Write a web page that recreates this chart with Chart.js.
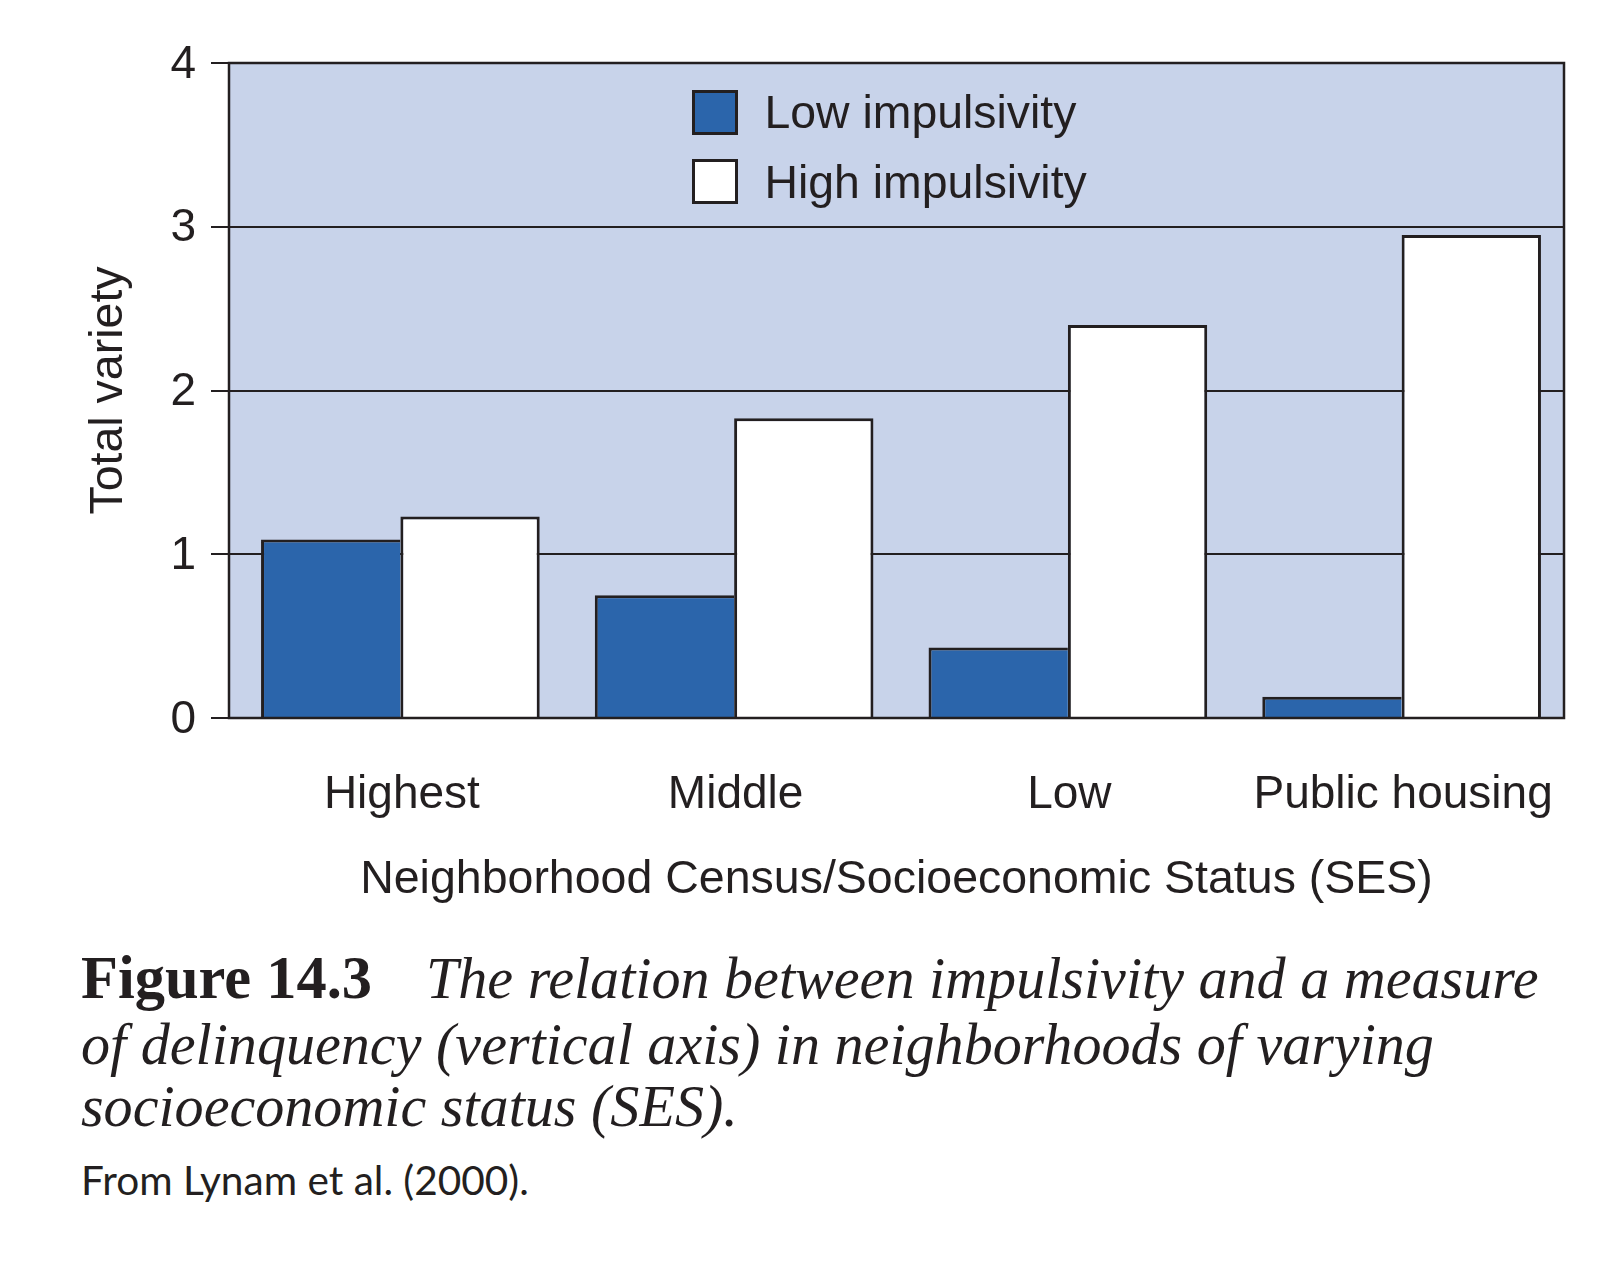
<!DOCTYPE html>
<html>
<head>
<meta charset="utf-8">
<script src="https://cdn.jsdelivr.net/npm/chart.js@4.4.1/dist/chart.umd.min.js"></script>
<style>
html, body { margin: 0; padding: 0; background: #ffffff; }
#wrap { position: relative; width: 1620px; height: 1272px; overflow: hidden; background: #ffffff; }
#c { position: absolute; left: 0; top: 0; }
.t { position: absolute; white-space: nowrap; line-height: 1; color: #231F20; }
.mk { display: inline-block; width: 0; height: 0; }
.legbox { position: absolute; width: 46px; height: 45px; box-sizing: border-box; border: 3px solid #231F20; }
</style>
</head>
<body>
<div id="wrap">
  <canvas id="c" width="1620" height="920"></canvas>
  <div id="legend"></div>
  <div id="cap1a" class="t" style="font-family:'Liberation Serif';font-weight:bold;">Figure 14.3<span class="mk"></span></div>
  <div id="cap1b" class="t" style="font-family:'Liberation Serif';font-style:italic;">The relation between impulsivity and a measure<span class="mk"></span></div>
  <div id="cap2" class="t" style="font-family:'Liberation Serif';font-style:italic;">of delinquency (vertical axis) in neighborhoods of varying<span class="mk"></span></div>
  <div id="cap3" class="t" style="font-family:'Liberation Serif';font-style:italic;">socioeconomic status (SES).<span class="mk"></span></div>
  <div id="src" class="t" style="font-family:'Lato';">From Lynam et al. (2000).<span class="mk"></span></div>
</div>
<script>
// ---- data ----
const categories = ['Highest', 'Middle', 'Low', 'Public housing'];
const seriesNames = ['Low impulsivity', 'High impulsivity'];
const lowImpulsivity = [1.09, 0.75, 0.43, 0.13];
const highImpulsivity = [1.23, 1.83, 2.40, 2.95];
const yTicks = [0, 1, 2, 3, 4];
const yTitle = 'Total variety';
const xTitle = 'Neighborhood Census/Socioeconomic Status (SES)';

// ---- styles ----
const INK = '#231F20';
const PANEL = '#C8D3EA';
const BLUE = '#2B65AB';
const WHITE = '#FFFFFF';
const BAR_SHIFT = 4.5;

Chart.defaults.font.family = "'Liberation Sans', Arial, sans-serif";
Chart.defaults.color = INK;

const framePlugin = {
  id: 'frame',
  afterLayout(chart) {
    // the bar groups of the original sit a few pixels right of the frame
    const s = chart.scales.x;
    s.left += BAR_SHIFT;
    s.right += BAR_SHIFT;
    s.configure();
  },
  beforeDraw(chart) {
    // restore the axis box so labels and title are centred on the frame
    const s = chart.scales.x;
    s.left -= BAR_SHIFT;
    s.right -= BAR_SHIFT;
    s.configure();
    const { ctx, chartArea: a } = chart;
    ctx.save();
    ctx.fillStyle = PANEL;
    ctx.fillRect(a.left, a.top, a.right - a.left, a.bottom - a.top);
    ctx.restore();
  },
  afterDatasetsDraw(chart) {
    const { ctx, chartArea: a } = chart;
    ctx.save();
    ctx.strokeStyle = INK;
    ctx.lineWidth = 2.5;
    ctx.strokeRect(a.left, a.top, a.right - a.left, a.bottom - a.top);
    ctx.restore();
  }
};

const chart = new Chart(document.getElementById('c'), {
  type: 'bar',
  data: {
    labels: categories,
    datasets: [
      {
        label: seriesNames[0],
        data: lowImpulsivity,
        backgroundColor: BLUE,
        borderColor: INK,
        borderWidth: { top: 3, left: 3, right: 0, bottom: 0 },
        borderSkipped: false
      },
      {
        label: seriesNames[1],
        data: highImpulsivity,
        backgroundColor: WHITE,
        borderColor: INK,
        borderWidth: { top: 3, left: 3, right: 3, bottom: 0 },
        borderSkipped: false
      }
    ]
  },
  options: {
    responsive: false,
    animation: false,
    devicePixelRatio: 1,
    layout: { padding: { top: 63, left: 0, right: 56, bottom: 0 } },
    datasets: { bar: { categoryPercentage: 0.835, barPercentage: 1.0 } },
    plugins: {
      legend: { display: false },
      tooltip: { enabled: false }
    },
    scales: {
      x: {
        grid: { display: false, drawTicks: false },
        border: { display: false },
        ticks: {
          font: { size: 46 },
          color: INK,
          padding: 50,
          labelOffset: 6,
          maxRotation: 0,
          autoSkip: false
        },
        title: {
          display: true,
          text: xTitle,
          font: { size: 46.5, lineHeight: 1.2 },
          color: INK,
          padding: { top: 0, bottom: 12 }
        },
        afterFit(scale) {
          scale.height = 202;
          scale.paddingLeft = 0;
          scale.paddingRight = 0;
        }
      },
      y: {
        min: 0,
        max: 4,
        afterBuildTicks(scale) { scale.ticks = yTicks.map(v => ({ value: v })); },
        grid: {
          color: INK,
          lineWidth: 2,
          drawTicks: true,
          tickLength: 18,
          tickColor: INK,
          tickWidth: 2
        },
        border: { display: false },
        ticks: {
          font: { size: 46 },
          color: INK,
          padding: 15,
          labelOffset: 2
        },
        title: {
          display: true,
          text: yTitle,
          font: { size: 46.5, lineHeight: 1.2 },
          color: INK,
          padding: { top: 81, bottom: 0 }
        },
        afterFit(scale) {
          scale.width = 229;
          scale.paddingTop = 0;
          scale.paddingBottom = 0;
        }
      }
    }
  },
  plugins: [framePlugin]
});

// ---- HTML legend built from the datasets ----
function place(el, left, baseline, width) {
  el.style.left = left + 'px';
  el.style.top = '0px';
  if (width) {
    el.style.fontSize = '100px';
    const w = el.getBoundingClientRect().width;
    el.style.fontSize = (100 * width / w) + 'px';
  }
  const mk = el.querySelector('.mk');
  const b = mk.getBoundingClientRect().bottom;
  el.style.top = (baseline - b) + 'px';
}

const legend = document.getElementById('legend');
chart.data.datasets.forEach((ds, i) => {
  const box = document.createElement('div');
  box.className = 'legbox';
  box.style.left = '692px';
  box.style.top = (90 + i * 69) + 'px';
  box.style.background = ds.backgroundColor;
  legend.appendChild(box);
  const txt = document.createElement('div');
  txt.className = 't';
  txt.style.fontFamily = "'Liberation Sans', Arial, sans-serif";
  txt.style.fontSize = '46.4px';
  txt.textContent = ds.label;
  const mk = document.createElement('span');
  mk.className = 'mk';
  txt.appendChild(mk);
  legend.appendChild(txt);
  place(txt, 764.5, 128 + i * 70);
});

// ---- caption ----
const c2 = document.getElementById('cap2');
place(c2, 81, 1064, 1353);
const italicSize = c2.style.fontSize;
const c1b = document.getElementById('cap1b');
c1b.style.fontSize = italicSize;
place(c1b, 426, 998);
const c3 = document.getElementById('cap3');
c3.style.fontSize = italicSize;
place(c3, 81, 1126);
place(document.getElementById('cap1a'), 81, 998, 291);
place(document.getElementById('src'), 81, 1195, 448);
</script>
</body>
</html>
